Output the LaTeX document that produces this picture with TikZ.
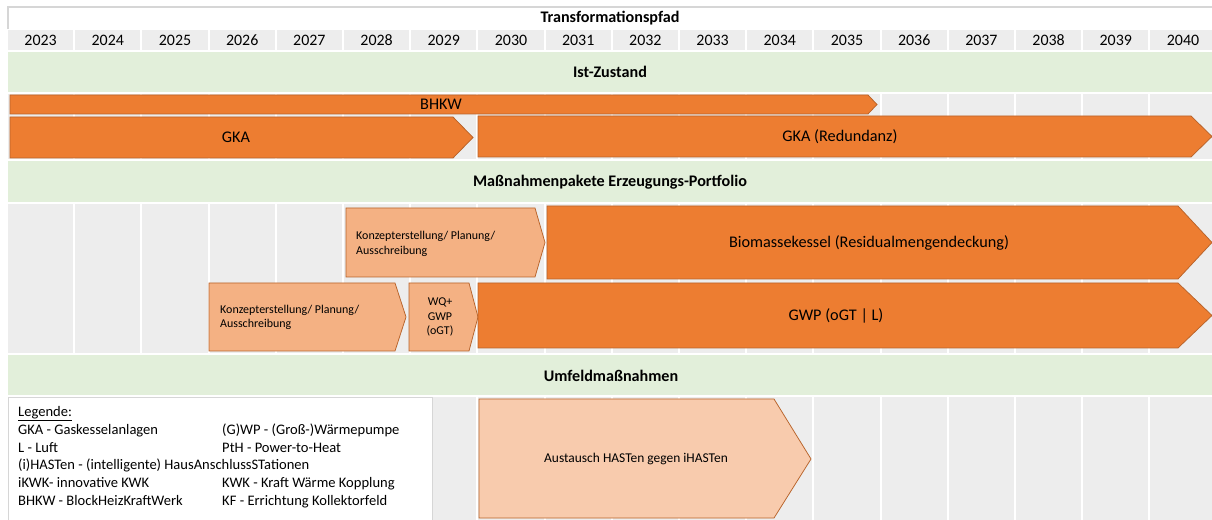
\documentclass[tikz,border=0pt]{standalone}
\usepackage{fontspec}
\setmainfont{Carlito}
\usetikzlibrary{positioning}
\definecolor{cellgray}{HTML}{EDEDED}
\definecolor{bandgreen}{HTML}{E2EFDA}
\definecolor{barorange}{HTML}{ED7D31}
\definecolor{barline}{HTML}{B8632A}
\definecolor{planorange}{HTML}{F4B183}
\definecolor{swappeach}{HTML}{F8CBAD}
\definecolor{framegray}{HTML}{D6D6D6}
\begin{document}
\begin{tikzpicture}[x=1bp, y=-1bp,
  cell/.style={fill=cellgray},
  band/.style={fill=bandgreen, draw=white, line width=2bp},
  head/.style={font=\fontsize{16.2}{19}\selectfont\bfseries, inner sep=0pt},
  yearlabel/.style={font=\fontsize{16}{19}\selectfont, inner sep=0pt},
  bar/.style={fill=barorange, draw=barline, line width=0.75bp},
  planbar/.style={bar, fill=planorange},
  swapbar/.style={bar, fill=swappeach},
  barlabel/.style={font=\fontsize{16.3}{19}\selectfont, inner sep=0pt},
  planlabel/.style={font=\fontsize{12}{14.8}\selectfont, inner sep=0pt, align=left},
  legendtext/.style={font=\fontsize{14.6}{17.8}\selectfont, inner sep=0pt, anchor=north west},
]
\useasboundingbox (0,0) rectangle (1212,520);

% Kopfzeile
\draw[framegray, line width=1.5bp] (8,29) -- (8,7) -- (1214,7);
\node[head] (titel) at (610,18) {Transformationspfad};

% Jahresspalten
\foreach \yr [count=\i from 0] in {2023,...,2040} {
  \fill[cell] (8+\i*67.2,30) rectangle ++(65.2,20);
  \fill[cell] (8+\i*67.2,52) rectangle ++(65.2,468);
  \node[yearlabel] (j\yr) at (8+\i*67.2+32.6,40) {\yr};
}

% Abschnitte
\draw[band] (7,51) rectangle (1214,93);
\node[head] (ist) at (610,72) {Ist-Zustand};
\draw[band] (7,160) rectangle (1214,203);
\node[head] (portfolio) at (610,182) {Maßnahmenpakete Erzeugungs-Portfolio};
\draw[band] (7,354) rectangle (1214,396);
\node[head] (umfeld) at (611,376) {Umfeldmaßnahmen};

% Ist-Zustand
\draw[bar] (10,95) -- (868,95) -- (877,104.5) -- (868,114) -- (10,114) -- cycle;
\node[barlabel] (bhkw) at (441,104.5) {BHKW};
\draw[bar] (10,117) -- (453,117) -- (473,137.5) -- (453,158) -- (10,158) -- cycle;
\node[barlabel] (gka) at (236,137.5) {GKA};
\draw[bar] (478,116) -- (1191,116) -- (1212,136.5) -- (1191,157) -- (478,157) -- cycle;
\node[barlabel] (gkared) at (840,137) {GKA (Redundanz)};

% Erzeugungs-Portfolio
\draw[planbar] (346,208) -- (535,208) -- (545,242.5) -- (535,277) -- (346,277) -- cycle;
\node[planlabel, anchor=west] (plan1) at (356,244) {Konzepterstellung/ Planung/\\Ausschreibung};
\draw[bar] (547,206) -- (1178,206) -- (1212,242.5) -- (1178,279) -- (547,279) -- cycle;
\node[barlabel] (biomasse) at (869,242.5) {Biomassekessel (Residualmengendeckung)};
\draw[planbar] (209,283) -- (395,283) -- (406,317) -- (395,351) -- (209,351) -- cycle;
\node[planlabel, anchor=west] (plan2) at (220,317.5) {Konzepterstellung/ Planung/\\Ausschreibung};
\draw[planbar] (409,283) -- (469,283) -- (478,317) -- (469,351) -- (409,351) -- cycle;
\node[planlabel, align=center] (wq) at (440,317) {WQ+\\GWP\\(oGT)};
\draw[bar] (478,283) -- (1178,283) -- (1212,315.5) -- (1178,348) -- (478,348) -- cycle;
\node[barlabel] (gwp) at (836,315.5) {GWP (oGT | L)};

% Umfeldmassnahmen
\draw[swapbar] (479,399) -- (774,399) -- (811,459) -- (774,518) -- (479,518) -- cycle;
\node[barlabel, font=\fontsize{13.5}{16}\selectfont] (hasten) at (636,459) {Austausch HASTen gegen iHASTen};

% Legende
\draw[fill=white, draw=framegray, line width=1bp] (8,398) rectangle (432,530);
\node[legendtext] (legende) at (18,404) {%
  \begin{tabular}{@{}p{204bp}@{}l@{}}
  \underline{Legende:} & \\
  GKA - Gaskesselanlagen & (G)WP - (Groß-)Wärmepumpe \\
  L - Luft & PtH - Power-to-Heat \\
  \multicolumn{2}{@{}l@{}}{(i)HASTen - (intelligente) HausAnschlussSTationen} \\
  iKWK- innovative KWK & KWK - Kraft Wärme Kopplung \\
  BHKW - BlockHeizKraftWerk & KF - Errichtung Kollektorfeld \\
  \end{tabular}};
\end{tikzpicture}
\end{document}
